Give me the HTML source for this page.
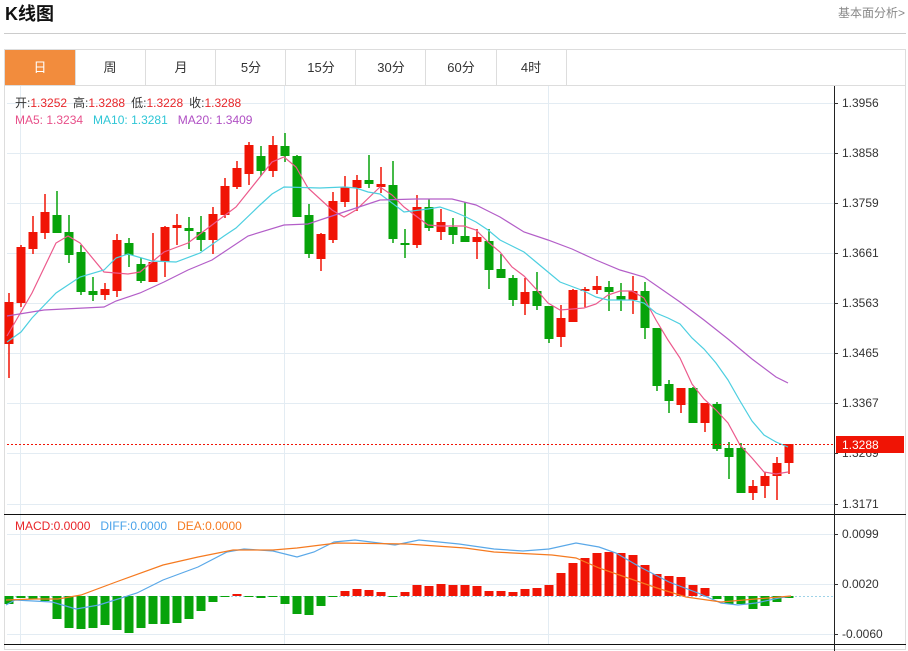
<!DOCTYPE html>
<html><head><meta charset="utf-8"><style>
html,body{margin:0;padding:0;background:#fff;width:908px;height:651px;overflow:hidden;font-family:"Liberation Sans","Noto Sans CJK SC",sans-serif;}
</style></head><body>
<svg id="s" width="908" height="651" xmlns="http://www.w3.org/2000/svg" style="position:absolute;left:0;top:0;font-family:'Liberation Sans','Noto Sans CJK SC',sans-serif">
<text x="5" y="20" font-size="18" font-weight="bold" fill="#111">K线图</text>
<text x="905" y="17" font-size="12" fill="#888" text-anchor="end">基本面分析&gt;</text>
<line x1="4" y1="33.5" x2="906" y2="33.5" stroke="#ccc"/>
<rect x="4.5" y="49.5" width="901" height="600" fill="none" stroke="#ddd"/>
<line x1="4" y1="85.5" x2="906" y2="85.5" stroke="#ddd"/>
<rect x="5" y="50" width="70" height="35" fill="#f28c3d"/>
<g font-size="13" fill="#333" text-anchor="middle">
<text x="40" y="72" fill="#fff">日</text><text x="110" y="72">周</text><text x="181" y="72">月</text><text x="251" y="72">5分</text><text x="321" y="72">15分</text><text x="391" y="72">30分</text><text x="461" y="72">60分</text><text x="531" y="72">4时</text>
</g>
<g stroke="#ddd"><line x1="75.5" y1="50" x2="75.5" y2="85"/><line x1="145.5" y1="50" x2="145.5" y2="85"/><line x1="215.5" y1="50" x2="215.5" y2="85"/><line x1="285.5" y1="50" x2="285.5" y2="85"/><line x1="355.5" y1="50" x2="355.5" y2="85"/><line x1="425.5" y1="50" x2="425.5" y2="85"/><line x1="496.5" y1="50" x2="496.5" y2="85"/><line x1="566.5" y1="50" x2="566.5" y2="85"/></g>
<g id="grid" stroke="#e3ecf3"></g>
<g id="c"></g>
<line x1="7" y1="444.5" x2="834" y2="444.5" stroke="#f01405" stroke-dasharray="2,2"/>
<line x1="4" y1="514.5" x2="906" y2="514.5" stroke="#111"/>
<line x1="4" y1="644.5" x2="906" y2="644.5" stroke="#111"/>
<line x1="834.5" y1="86" x2="834.5" y2="651" stroke="#222"/>
<g id="ax" font-size="12" fill="#333"></g>
<rect x="836" y="436" width="68" height="17" fill="#f01405"/>
<text x="842" y="449" font-size="12" fill="#fff">1.3288</text>
<g font-size="12">
<text x="15" y="107"><tspan fill="#333">开:</tspan><tspan fill="#e8262a">1.3252</tspan><tspan fill="#333" dx="6">高:</tspan><tspan fill="#e8262a">1.3288</tspan><tspan fill="#333" dx="6">低:</tspan><tspan fill="#e8262a">1.3228</tspan><tspan fill="#333" dx="6">收:</tspan><tspan fill="#e8262a">1.3288</tspan></text>
<text x="15" y="124"><tspan fill="#e8508a">MA5: 1.3234</tspan><tspan fill="#2ec6d6" dx="10">MA10: 1.3281</tspan><tspan fill="#b04fc4" dx="10">MA20: 1.3409</tspan></text>
<text x="15" y="530"><tspan fill="#e8262a">MACD:0.0000</tspan><tspan fill="#4aa3ea" dx="10">DIFF:0.0000</tspan><tspan fill="#f57a20" dx="10">DEA:0.0000</tspan></text>
</g>
</svg>
<script>
var NS="http://www.w3.org/2000/svg";
function el(p,t,a){var e=document.createElementNS(NS,t);for(var k in a)e.setAttribute(k,a[k]);document.getElementById(p).appendChild(e);return e;}
var pt=[[103,"1.3956"],[153,"1.3858"],[203,"1.3759"],[253,"1.3661"],[303,"1.3563"],[353,"1.3465"],[403,"1.3367"],[453,"1.3269"],[504,"1.3171"],[534,"0.0099"],[584,"0.0020"],[634,"-0.0060"]];
pt.forEach(function(p){el("grid","line",{x1:7,y1:p[0]+.5,x2:834,y2:p[0]+.5});el("ax","line",{x1:834,y1:p[0]+.5,x2:838,y2:p[0]+.5,stroke:"#333"});var t=el("ax","text",{x:842,y:p[0]+4});t.textContent=p[1];});
[20,284,548].forEach(function(x){el("grid","line",{x1:x+.5,y1:86,x2:x+.5,y2:644});});
var C=[[302,344,293,378,1],[247,303,245,307,1],[232,249,216,254,1],[212,233,194,239,1],[215,233,191,233,0],[232,255,215,263,0],[252,292,245,295,0],[291,295,277,301,0],[289,295,283,300,1],[240,291,234,297,1],[243,255,238,267,0],[264,281,258,283,0],[262,282,233,282,1],[227,262,226,277,1],[225,228,214,245,1],[228,231,217,249,0],[232,240,216,251,0],[214,240,207,254,1],[186,215,178,218,1],[168,187,161,189,1],[145,174,142,185,1],[156,171,146,176,0],[145,171,136,177,1],[146,156,133,162,0],[156,217,155,217,0],[215,254,204,258,0],[234,259,233,271,1],[201,240,192,243,1],[187,202,176,207,1],[180,188,175,211,1],[180,184,155,188,0],[184,187,167,193,1],[185,239,161,243,0],[243,245,229,258,0],[207,245,195,248,1],[207,228,199,231,0],[222,232,209,240,1],[227,235,218,244,0],[236,242,202,242,0],[237,242,229,259,1],[241,270,229,289,0],[269,278,254,278,0],[278,300,275,306,0],[292,304,278,315,1],[291,306,272,310,0],[306,339,306,343,0],[318,337,305,347,1],[290,322,289,322,1],[289,291,287,307,1],[286,290,276,294,1],[287,292,281,311,0],[296,300,283,311,0],[291,300,276,314,1],[291,328,282,339,0],[328,386,328,391,0],[384,401,380,413,0],[388,405,388,413,1],[388,423,387,423,0],[403,423,403,432,1],[404,449,402,451,0],[448,457,442,479,0],[448,493,443,493,0],[486,493,480,500,1],[476,486,472,498,1],[463,476,457,500,1],[444,463,444,474,1]];
var R="#f01405",G="#07a30a";
// MACD histogram
var H=[-8,-2,-3,-5,-23,-32,-33,-32,-29,-34,-37,-32,-28,-28,-27,-23,-15,-6,-1,2,-1,-2,-1,-8,-18,-19,-10,-1,5,7,6,4,-1,4,11,10,12,11,11,10,5,5,4,7,8,11,23,33,38,43,44,43,41,31,22,20,19,11,8,-3,-8,-8,-13,-10,-6,-2];
el("c","line",{x1:7,y1:596.5,x2:834,y2:596.5,stroke:"#9fd3e8","stroke-dasharray":"2,2"});
H.forEach(function(h,i){var x=9+i*12;var y=h>0?596-h:596;el("c","rect",{x:x-4.5,y:y,width:9,height:Math.max(1,Math.abs(h)),fill:h>0?R:G});});
C.forEach(function(c,i){var x=9+i*12,col=c[4]?R:G;el("c","line",{x1:x,y1:c[2],x2:x,y2:c[3],stroke:col,"stroke-width":1.5});el("c","rect",{x:x-4.5,y:c[0],width:9,height:Math.max(2,c[1]-c[0]),fill:col});});
function pl(pts,col,w){el("c","polyline",{points:pts.map(function(p){return p.join(",")}).join(" "),fill:"none",stroke:col,"stroke-width":w||1.2});}
pl([[7,336],[32,293],[56,243],[68,236],[80,243],[104,272],[128,274],[140,272],[164,252],[188,243],[212,225],[236,207],[248,192],[272,162],[284,157],[296,167],[308,188],[332,210],[344,217],[356,210],[380,187],[392,195],[404,207],[428,225],[440,226],[464,226],[476,230],[488,242],[500,252],[512,267],[524,276],[536,289],[548,303],[560,310],[584,308],[596,304],[608,295],[620,291],[632,291],[644,298],[656,320],[668,340],[680,358],[692,384],[704,399],[716,410],[728,423],[740,445],[752,458],[764,472],[776,474],[788,472]],"#ec5a8c");
pl([[7,342],[21,332],[32,318],[56,293],[80,277],[104,270],[116,258],[128,254],[152,261],[176,262],[200,253],[224,236],[236,228],[260,205],[272,194],[284,187],[320,188],[344,187],[356,188],[368,192],[380,194],[404,212],[428,209],[440,207],[452,211],[464,216],[476,222],[488,230],[500,240],[524,252],[536,262],[548,272],[560,282],[584,291],[596,297],[608,300],[632,300],[644,303],[656,313],[668,318],[680,324],[692,338],[704,349],[716,363],[728,380],[740,401],[752,421],[764,435],[776,442],[788,447]],"#4dcfe0");
pl([[7,316],[44,310],[104,307],[116,301],[140,293],[164,282],[188,270],[212,260],[248,236],[284,225],[308,224],[344,212],[380,200],[416,199],[452,199],[464,202],[476,205],[488,211],[500,217],[524,232],[548,240],[572,249],[596,260],[620,270],[644,277],[680,302],[704,320],[728,339],[752,359],[776,377],[788,383]],"#b35ec8");
pl([[6,605],[15,600],[52,602],[76,609],[99,605],[137,593],[163,580],[198,567],[227,552],[244,549],[273,551],[297,557],[314,552],[334,542],[355,540],[395,545],[419,540],[459,544],[494,549],[523,551],[549,549],[576,543],[599,547],[616,553],[640,567],[669,582],[698,593],[721,603],[738,605],[756,603],[779,598],[791,596]],"#5aa8e8");
pl([[6,600],[35,599],[58,599],[81,595],[116,582],[163,565],[198,557],[233,550],[273,550],[297,548],[337,543],[407,544],[465,548],[494,552],[552,555],[576,558],[599,568],[628,578],[657,588],[686,597],[721,602],[744,600],[791,596]],"#f57a20");
</script>
</body></html>
